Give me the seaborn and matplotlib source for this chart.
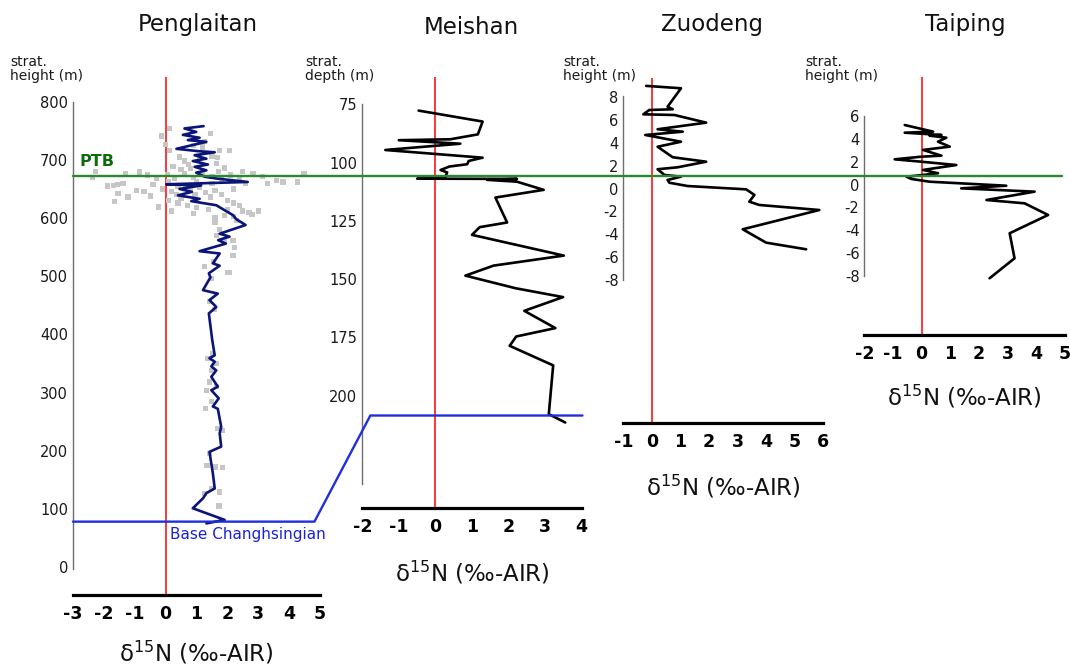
import seaborn as sns
import matplotlib.pyplot as plt
from matplotlib.lines import Line2D

# ---- values ----
# Penglaitan: running trend (navy line) + individual measurements (grey squares)
pen_d15n = [1.23, 0.61, 0.99, 0.56, 1.10, 0.72, 1.32, 0.35, 1.05, 1.59, 0.94, 1.32, 0.88, 1.37, 0.94,
            1.32, 0.99, 1.26, 1.64, 2.66, 0.02, 1.15, 0.45, 0.85, 0.40, 1.10, 0.83, 1.64, 2.02, 2.18,
            2.29, 2.59, 1.75, 2.07, 1.70, 1.95, 1.10, 1.75, 1.53, 1.75, 1.40, 1.45, 1.21, 1.69, 1.42,
            1.64, 1.40, 1.51, 1.59, 1.42, 1.59, 1.48, 1.64, 1.48, 1.69, 1.48, 1.72, 1.53, 1.69, 1.80,
            1.75, 1.80, 1.42, 1.53, 1.59, 1.32, 1.21, 0.88, 1.91, 1.32]
pen_height = [758, 754, 748, 743, 738, 734, 731, 719, 715, 713, 708, 702, 698, 692, 688,
              682, 678, 671, 668, 662, 658, 656, 650, 645, 639, 633, 629, 622, 610, 605,
              598, 588, 573, 568, 562, 556, 543, 539, 522, 518, 505, 498, 476, 470, 459,
              447, 436, 390, 364, 359, 353, 345, 338, 327, 310, 304, 290, 276, 272, 241,
              230, 207, 198, 161, 135, 127, 118, 101, 81, 75]

pen_pts_d15n = [0.13, -0.14, 0.0, 1.26, 1.45, 1.75, 2.07, 0.13, 0.45, 1.69, 0.24, 0.6, 0.75, 1.64, 1.2,
                0.9, 1.1, 1.5, 0.5, 1.9,
                -2.27, -2.37, -1.29, -0.84, -0.6, -1.87, -1.70, -1.55, -1.38, -1.54, -1.65, -1.22,
                -0.95, -0.70, -0.41, -0.22, -0.1, 0.1, 0.2, 0.35, 0.5, 0.65, 0.8, 0.95, 1.1, 1.3,
                1.45, 1.6, 1.8, 2.0, 2.2, 2.4, 2.0, 1.9, 2.2, 2.5, 2.7, 3.0, 2.8, 1.4, 1.0, 0.7,
                0.4, 0.1, 0.3, 0.6, 0.9, 1.2, 1.5, 1.8, 2.1, 2.4, 2.83, 3.15, 3.31, 3.58, 3.80,
                4.28, 4.48, 2.6, 2.2, 1.5, 0.05, -0.3, 1.0, 0.4, 1.7, 2.5, 0.8, -0.5, 0.2, 0.9,
                1.6, 2.3, 1.6,
                1.64, 2.18, 2.23, 2.18, 1.26, 2.02, 1.48, 2.07, 1.42, 1.59, 1.37, 1.64, 1.53,
                1.48, 1.42, 1.64, 1.32, 1.48, 1.28, 1.69, 1.85, 1.42, 1.34, 1.60, 1.83, 1.48,
                1.75, 1.26, 1.73, 1.9, 1.75, 1.55]
pen_pts_height = [754, 741, 727, 731, 745, 716, 716, 716, 705, 704, 688, 698, 692, 694, 722,
                  725, 700, 706, 684, 686,
                  680, 669, 676, 679, 674, 655, 656, 657, 659, 642, 628, 636,
                  648, 645, 658, 619, 650, 662, 645, 640, 634, 655, 648, 640, 652, 644,
                  636, 648, 640, 630, 626, 622, 615, 605, 602, 612, 610, 612, 606, 615, 618, 622,
                  626, 630, 668, 676, 670, 676, 672, 667, 674, 668, 676, 671, 659, 665, 662,
                  662, 676, 660, 650, 660, 675, 668, 662, 655, 680, 680, 685, 638, 612, 608,
                  600, 596, 592,
                  570, 562, 550, 536, 517, 506, 496, 507, 456, 443, 359, 350, 367,
                  338, 318, 310, 304, 284, 273, 238, 235, 195, 175, 172, 171, 135,
                  129, 127, 105, 560, 580, 525]

# Meishan (depth section)
mei_d15n = [-0.46, 1.29, 1.16, 0.41, -1.00, 0.68, -1.37, 1.29, 0.91, 0.87, 0.38, 0.14, 0.32, 0.27,
            -0.50, 2.23, 1.41, 2.23, 2.96, 1.64, 1.96, 1.21, 1.00, 3.51, 1.59, 0.82, 2.19, 3.49,
            2.43, 3.28, 2.21, 2.03, 3.22, 3.10, 3.55]
mei_depth = [77.7, 82.4, 87.9, 90.0, 90.4, 91.9, 94.6, 97.9, 99.3, 100.7, 101.7, 103.2, 104.2, 106.3,
             106.9, 107.0, 107.4, 108.2, 111.7, 115.0, 125.7, 127.7, 131.0, 139.9, 144.2, 148.5, 153.9,
             157.7, 163.6, 171.0, 174.6, 178.6, 187.0, 207.9, 211.5]

# Zuodeng
zuo_d15n = [-0.20, 1.02, 0.55, 0.73, -0.09, -0.30, 0.79, 1.90, 0.20, 1.08, -0.23, 1.02, 0.20, 0.73,
            1.90, 0.90, 0.20, 0.44, 1.02, 0.55, 0.61, 1.25, 3.30, 3.59, 3.41, 3.76, 5.86, 3.18, 4.00, 5.40]
zuo_height = [9.0, 8.79, 7.18, 6.95, 6.89, 6.51, 6.45, 5.78, 5.20, 4.99, 4.70, 4.11, 3.67, 2.75,
              2.36, 1.87, 1.70, 1.20, 1.05, 0.76, 0.52, 0.23, -0.06, -0.55, -1.14, -1.43, -1.87,
              -3.56, -4.73, -5.31]

# Taiping
tai_d15n = [-0.59, 0.40, -0.59, 0.69, 0.28, 0.86, 0.57, 0.98, 0.05, 0.69, -0.01, -0.94, -0.01, 1.21,
            0.05, 0.57, 0.05, -0.53, -0.36, 0.28, 2.95, 1.38, 3.94, 2.26, 3.59, 4.41, 3.07, 3.24, 2.37]
tai_height = [5.21, 4.63, 4.54, 4.34, 4.28, 4.10, 3.75, 3.32, 3.03, 2.53, 2.44, 2.21, 2.00, 1.71,
              1.28, 0.99, 0.84, 0.69, 0.49, 0.25, -0.10, -0.33, -0.62, -1.35, -1.64, -2.66, -4.26,
              -6.45, -8.20]

# correlation levels (section units)
ptb_pen, ptb_tai = 672, 0.75
base_ch_pen, base_ch_mei = 78, 208.5

sections = ["Penglaitan", "Meishan", "Zuodeng", "Taiping"]
ylabels = ["strat.\nheight (m)", "strat.\ndepth (m)", "strat.\nheight (m)", "strat.\nheight (m)"]
xlabel = "δ$^{15}$N (‰-AIR)"

# %%
sns.set_style("white")
plt.rcParams["font.family"] = ["DejaVu Sans"]
plt.rcParams["axes.unicode_minus"] = False
plt.rcParams["mathtext.fontset"] = "dejavusans"

W, H = 1070, 667
fig = plt.figure(figsize=(W / 100, H / 100), dpi=100)


def panel(left, right, top, bottom):
    return fig.add_axes([left / W, 1 - bottom / H, (right - left) / W, (bottom - top) / H])


def finish(ax, xlim, top, bottom, yref, yticks, ybounds, labelpad):
    # yref: two (value, pixel) pairs used to place the y scale
    (v0, p0), (v1, p1) = yref
    k = (v1 - v0) / (p1 - p0)
    ax.set_xlim(xlim)
    ax.set_ylim(v0 + (bottom - p0) * k, v0 + (top - p0) * k)
    ax.set_facecolor("none")
    ax.spines["top"].set_visible(False)
    ax.spines["right"].set_visible(False)
    ax.spines["left"].set_color("#6e6e6e")
    ax.spines["left"].set_linewidth(1.0)
    ax.spines["left"].set_bounds(*ybounds)
    ax.spines["bottom"].set_color("black")
    ax.spines["bottom"].set_linewidth(2.3)
    xt = list(range(xlim[0], xlim[1] + 1))
    ax.set_xticks(xt)
    ax.set_xticklabels([str(v) for v in xt], fontweight="bold")
    ax.set_yticks(yticks)
    ax.tick_params(axis="x", direction="in", length=6, width=2, pad=7, labelsize=12.5, colors="black")
    ax.tick_params(axis="y", length=0, pad=3.5, labelsize=10.5, labelcolor="#1a1a1a")
    ax.axvline(0, color="red", lw=1.1, zorder=1)
    ax.set_xlabel(xlabel, fontsize=16.5, labelpad=labelpad, color="#111111")
    ax.set_ylabel("")
    ax.grid(False)


line_kw = dict(sort=False, estimator=None, lw=1.9, zorder=3)

# Penglaitan
ax1 = panel(73, 320, 77, 595)
sns.scatterplot(x=pen_pts_d15n, y=pen_pts_height, marker="s", s=14, color="#c6c6c6",
                edgecolor="none", ax=ax1, zorder=2)
sns.lineplot(x=pen_d15n, y=pen_height, color="#0b1577", ax=ax1, **line_kw)
finish(ax1, (-3, 5), 77, 595, ((800, 101.7), (0, 567)), range(0, 801, 100), (-3, 800), 12)

# Meishan
ax2 = panel(362.3, 581.7, 77, 508.3)
sns.lineplot(x=mei_d15n, y=mei_depth, color="black", ax=ax2, **line_kw)
finish(ax2, (-2, 4), 77, 508.3, ((75, 104.3), (200, 395.7)), range(75, 201, 25), (75, 238), 17)

# Zuodeng
ax3 = panel(623.3, 823.3, 78, 423.3)
sns.lineplot(x=zuo_d15n, y=zuo_height, color="black", ax=ax3, **line_kw)
finish(ax3, (-1, 6), 78, 423.3, ((8, 97.3), (-8, 280)), range(-8, 9, 2), (-8, 8.1), 16)

# Taiping
ax4 = panel(864.3, 1065, 77.3, 335)
sns.lineplot(x=tai_d15n, y=tai_height, color="black", ax=ax4, **line_kw)
finish(ax4, (-2, 5), 77.3, 335, ((6, 116), (-8, 276)), range(-8, 7, 2), (-8, 6), 15)


# correlation lines drawn across panels, placed through each panel's data scale
def to_fig(ax, x, y):
    return fig.transFigure.inverted().transform(ax.transData.transform((x, y)))


a = to_fig(ax1, -3, ptb_pen)
b = to_fig(ax4, 4.9, ptb_tai)
fig.add_artist(Line2D([a[0], b[0]], [a[1], a[1]], color="#2a8a2a", lw=1.7, zorder=5))

pts = [to_fig(ax1, -3, base_ch_pen), to_fig(ax1, 4.82, base_ch_pen),
       to_fig(ax2, -1.78, base_ch_mei), to_fig(ax2, 4.02, base_ch_mei)]
fig.add_artist(Line2D([p[0] for p in pts], [p[1] for p in pts], color="#1f2fdc", lw=1.7, zorder=5))

ax1.text(-2.78, ptb_pen + 12, "PTB", color="#0d6b0d", fontsize=11.5, fontweight="bold",
         ha="left", va="bottom")
ax1.text(0.13, base_ch_pen - 10, "Base Changhsingian", color="#1a22d6", fontsize=11,
         ha="left", va="top")

# titles and axis captions
for name, xc, yc in zip(sections, [197.5, 471, 712.5, 965.5], [25, 28, 25, 25]):
    fig.text(xc / W, 1 - yc / H, name, fontsize=16.5, ha="center", va="center", color="#111111")
for lab, xl in zip(ylabels, [10, 305, 563, 805]):
    fig.text(xl / W, 1 - 69 / H, lab, fontsize=10, ha="left", va="center", linespacing=1.05,
             color="#1a1a1a")

fig.savefig("out.png", dpi=100)
